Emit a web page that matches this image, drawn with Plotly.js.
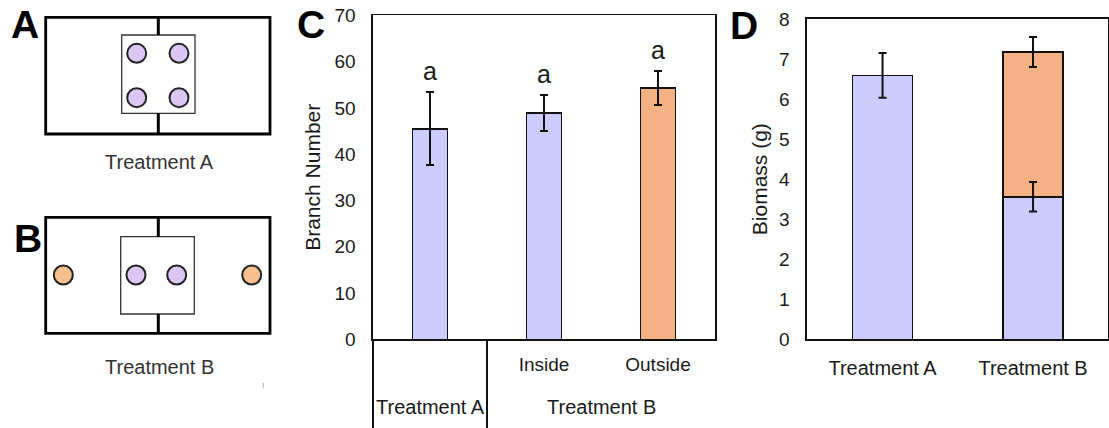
<!DOCTYPE html>
<html>
<head>
<meta charset="utf-8">
<script src="https://cdn.plot.ly/plotly-3.0.1.min.js"></script>
<style>html,body{margin:0;padding:0;background:#fff;}#chart{width:1109px;height:428px;}</style>
</head>
<body>
<div id="chart"></div>
<script>
// ---------- Data (panel C: branch number) ----------
const cCategories = ["Treatment A", "Inside", "Outside"];
const cTickText   = ["", "Inside", "Outside"];
const cValues     = [45.5, 48.9, 54.3];
const cErrors     = [7.9, 3.9, 3.6];
const cLetters    = ["a", "a", "a"];
const cGroups     = ["Treatment A", "Treatment B"];

// ---------- Data (panel D: biomass) ----------
const dCategories   = ["Treatment A", "Treatment B"];
const dInsideValues = [6.59, 3.56];
const dInsideErrors = [0.56, 0.37];
const dOutsideCats  = ["Treatment B"];
const dOutsideValues= [3.62];
const dOutsideErrors= [0.38];

// ---------- Styles ----------
const PURPLE = "#CCCCFF";
const ORANGE = "#F4B183";
const DOT_PURPLE = "#DCC6F4";
const DOT_ORANGE = "#F8C08E";
const FONT = "Liberation Sans, Arial, sans-serif";
const TXT = "#1a1a1a";
const cColors = [PURPLE, PURPLE, ORANGE];

// ---------- Diagram geometry (schematic panels A and B, pixel units) ----------
const dishA = {x0: 45.7, x1: 270, y0: 17.3, y1: 134, ix0: 121.7, ix1: 195, iy0: 35, iy1: 113.3};
const dishB = {x0: 45.7, x1: 270, y0: 217.3, y1: 333.3, ix0: 120.7, ix1: 194.3, iy0: 236.7, iy1: 314};
const dividerX = 158.3;
const dotsAx = [136.7, 179, 136.7, 179];
const dotsAy = [53.3, 53.3, 97.7, 97.7];
const dotsBx = [136, 176.7];
const dotsBy = [275, 275];
const dotsBOx = [63.3, 251.7];
const dotsBOy = [275, 275];

const H = 428, W = 1109;
const py = v => 1 - v / H;
const px = v => v / W;

const errStyle = {color: "#111", thickness: 2, width: 4};

const traces = [
  {type: "bar", x: cCategories, y: cValues, xaxis: "x", yaxis: "y", width: 0.31,
   marker: {color: cColors, line: {color: "#111", width: 1.6}},
   error_y: Object.assign({type: "data", array: cErrors, visible: true}, errStyle),
   hoverinfo: "skip", showlegend: false},
  {type: "bar", x: dCategories, y: dInsideValues, xaxis: "x2", yaxis: "y2", width: 0.4,
   marker: {color: PURPLE, line: {color: "#111", width: 1.6}},
   hoverinfo: "skip", showlegend: false},
  {type: "bar", x: dOutsideCats, y: dOutsideValues, xaxis: "x2", yaxis: "y2", width: 0.4,
   marker: {color: ORANGE, line: {color: "#111", width: 1.6}},
   error_y: Object.assign({type: "data", array: dOutsideErrors, visible: true}, errStyle),
   hoverinfo: "skip", showlegend: false},
  // error bars of the inside (lower) segment, drawn on top of the stacked bars
  {type: "scatter", mode: "markers", x: dCategories, y: dInsideValues, xaxis: "x2", yaxis: "y2",
   marker: {size: 1, color: "rgba(0,0,0,0)"},
   error_y: Object.assign({type: "data", array: dInsideErrors, visible: true}, errStyle),
   hoverinfo: "skip", showlegend: false},
  {type: "scatter", mode: "markers", x: dotsAx.concat(dotsBx), y: dotsAy.concat(dotsBy), xaxis: "x3", yaxis: "y3",
   marker: {size: 19, color: DOT_PURPLE, line: {color: "#222", width: 2}}, hoverinfo: "skip", showlegend: false},
  {type: "scatter", mode: "markers", x: dotsBOx, y: dotsBOy, xaxis: "x3", yaxis: "y3",
   marker: {size: 19, color: DOT_ORANGE, line: {color: "#222", width: 2}}, hoverinfo: "skip", showlegend: false}
];

const shapes = [];
[dishA, dishB].forEach(d => {
  shapes.push({type: "rect", xref: "x3", yref: "y3", x0: d.x0, x1: d.x1, y0: d.y0, y1: d.y1,
               line: {color: "#000", width: 2.8}, fillcolor: "rgba(0,0,0,0)", layer: "below"});
  shapes.push({type: "line", xref: "x3", yref: "y3", x0: dividerX, x1: dividerX, y0: d.y0, y1: d.iy0, line: {color: "#000", width: 3}});
  shapes.push({type: "line", xref: "x3", yref: "y3", x0: dividerX, x1: dividerX, y0: d.iy1, y1: d.y1, line: {color: "#000", width: 3}});
  shapes.push({type: "rect", xref: "x3", yref: "y3", x0: d.ix0, x1: d.ix1, y0: d.iy0, y1: d.iy1,
               line: {color: "#333", width: 1.3}, fillcolor: "#fff", layer: "below"});
});
// Panel C: lines below the axis (group separators)
shapes.push({type: "line", xref: "paper", yref: "paper", x0: px(373), x1: px(373), y0: 0, y1: py(339.3), line: {color: "#111", width: 2}});
shapes.push({type: "line", xref: "x", yref: "paper", x0: 0.5, x1: 0.5, y0: 0, y1: py(339.3), line: {color: "#111", width: 2}});

const annotations = [];
cLetters.forEach((t, i) => {
  annotations.push({xref: "x", yref: "y", x: cCategories[i], y: cValues[i] + cErrors[i] + 4.6, text: t,
    showarrow: false, font: {family: FONT, size: 25, color: TXT}, yanchor: "middle"});
});
annotations.push({xref: "x", yref: "paper", x: 0, y: py(407), text: cGroups[0], showarrow: false,
  font: {family: FONT, size: 20, color: TXT}, yanchor: "middle"});
annotations.push({xref: "x", yref: "paper", x: 1.5, y: py(407), text: cGroups[1], showarrow: false,
  font: {family: FONT, size: 20, color: TXT}, yanchor: "middle"});
[["A", 24.5, 24], ["B", 27.5, 238], ["C", 311, 24], ["D", 743.5, 26]].forEach(([t, x, y]) => {
  annotations.push({xref: "paper", yref: "paper", x: px(x), y: py(y), text: "<b>" + t + "</b>", showarrow: false,
    font: {family: FONT, size: 39, color: "#000"}, xanchor: "center", yanchor: "middle"});
});
annotations.push({xref: "x3", yref: "y3", x: 159, y: 161.7, text: "Treatment A", showarrow: false,
  font: {family: FONT, size: 20, color: "#333"}, yanchor: "middle"});
annotations.push({xref: "x3", yref: "y3", x: 159, y: 366.7, text: "Treatment B", showarrow: false,
  font: {family: FONT, size: 20, color: "#333"}, yanchor: "middle"});
annotations.push({xref: "x3", yref: "y3", x: 263, y: 385, text: "!", showarrow: false,
  font: {family: FONT, size: 8, color: "#777"}, yanchor: "middle"});

const tickFont = {family: FONT, size: 19, color: TXT};
const catFont = {family: FONT, size: 20, color: TXT};

const layout = {
  width: W, height: H,
  margin: {l: 0, r: 0, t: 0, b: 0},
  paper_bgcolor: "#fff", plot_bgcolor: "rgba(0,0,0,0)",
  barmode: "stack",
  showlegend: false,
  xaxis: {domain: [px(373), px(715)], range: [-0.5, 2.5], type: "category",
    tickvals: cCategories, ticktext: cTickText, tickfont: {family: FONT, size: 19, color: TXT},
    showline: true, mirror: true, linecolor: "#111", linewidth: 1.6,
    ticks: "outside", ticklen: 7, tickcolor: "rgba(0,0,0,0)", showgrid: false, zeroline: false, fixedrange: true},
  yaxis: {domain: [py(339.3), py(15.3)], range: [0, 70], dtick: 10, tickfont: tickFont,
    showline: true, mirror: true, linecolor: "#111", linewidth: 1.6,
    ticks: "outside", ticklen: 12, tickcolor: "rgba(0,0,0,0)", showgrid: false, zeroline: false,
    title: {text: "Branch Number", font: {family: FONT, size: 21, color: TXT}, standoff: 8}, fixedrange: true},
  xaxis2: {domain: [px(807.3), px(1108.3)], range: [-0.5, 1.5], type: "category", anchor: "y2",
    tickfont: catFont, showline: true, mirror: true, linecolor: "#111", linewidth: 2,
    ticks: "outside", ticklen: 10, tickcolor: "rgba(0,0,0,0)", showgrid: false, zeroline: false, fixedrange: true},
  yaxis2: {domain: [py(339.3), py(19)], range: [0, 8], dtick: 1, anchor: "x2", tickfont: tickFont,
    showline: true, mirror: true, linecolor: "#111", linewidth: 2,
    ticks: "outside", ticklen: 12, tickcolor: "rgba(0,0,0,0)", showgrid: false, zeroline: false,
    title: {text: "Biomass (g)", font: {family: FONT, size: 21, color: TXT}, standoff: 6}, fixedrange: true},
  xaxis3: {domain: [0, px(290)], range: [0, 290], anchor: "y3", visible: false, fixedrange: true},
  yaxis3: {domain: [0, 1], range: [428, 0], anchor: "x3", visible: false, fixedrange: true},
  shapes: shapes,
  annotations: annotations
};

Plotly.newPlot("chart", traces, layout, {staticPlot: true, displayModeBar: false});
</script>
</body>
</html>
